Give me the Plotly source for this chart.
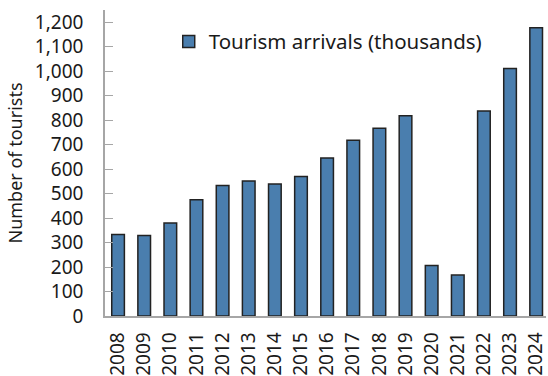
import plotly.graph_objects as go

years = ["2008", "2009", "2010", "2011", "2012", "2013", "2014", "2015", "2016",
         "2017", "2018", "2019", "2020", "2021", "2022", "2023", "2024"]
arrivals = [333, 329, 380, 475, 533, 551, 539, 570, 645, 718, 767, 818,
            206, 167, 837, 1011, 1178]
y_ticks = [0, 100, 200, 300, 400, 500, 600, 700, 800, 900, 1000, 1100, 1200]

FONT = "Noto Sans"
AXIS_GREY = "#a6a6a6"

fig = go.Figure(
    go.Bar(
        x=years,
        y=arrivals,
        name="Tourism arrivals (thousands)",
        marker=dict(color="#4a7eae", line=dict(color="#222222", width=1.5)),
    )
)

fig.update_layout(
    width=548,
    height=376,
    margin=dict(l=105, r=0, t=10, b=59),
    paper_bgcolor="white",
    plot_bgcolor="white",
    bargap=0.516,
    font=dict(family=FONT, size=19, color="#1a1a1a"),
    showlegend=True,
    legend=dict(
        x=0.1445, y=0.962, xanchor="left", yanchor="top",
        bgcolor="rgba(0,0,0,0)", font=dict(size=20.5),
        itemwidth=30,
    ),
)

fig.update_xaxes(
    type="category",
    range=[-0.5, 16.376],
    showline=True, linecolor=AXIS_GREY, linewidth=1.5,
    ticks="", tickangle=-90, showgrid=False,
    ticklabelstandoff=7,
    tickfont=dict(size=19),
)

fig.update_yaxes(
    range=[0, 1250],
    tickvals=y_ticks,
    tickformat=",d",
    showline=True, linecolor=AXIS_GREY, linewidth=1.5,
    ticks="inside", ticklen=8, tickcolor=AXIS_GREY, tickwidth=1,
    showgrid=False, zeroline=False,
    ticklabelstandoff=16,
    tickfont=dict(size=19),
    title=dict(text="Number of tourists", font=dict(size=18), standoff=8),
)

fig.write_html("out.html")
